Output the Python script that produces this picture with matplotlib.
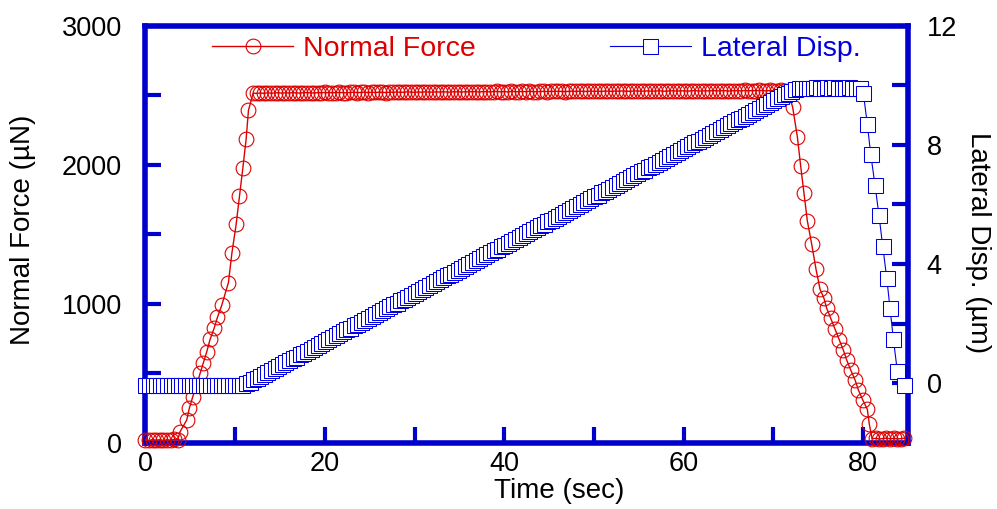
import numpy as np
import matplotlib.pyplot as plt

plt.rcParams['font.family'] = ['Liberation Sans', 'DejaVu Sans']

RED = '#dd0000'
BLUE = '#0000dd'
FRAME = '#0000cc'

# normal force (uN) against time (sec): preload, ramp up, hold, unload
t_force = [
    0.0, 0.4, 0.8, 1.2, 1.6, 2.0, 2.4, 2.8, 3.2, 3.6,
    3.86, 4.60, 4.89, 5.27, 5.71, 6.09, 6.46, 6.83, 7.20, 7.65,
    8.02, 8.51, 9.25, 9.63, 10.11, 10.48, 10.86, 11.22, 11.48,
    12.0, 12.4, 12.8, 13.2, 13.6, 14.0, 14.4, 14.8, 15.2, 15.6,
    16.0, 16.4, 16.8, 17.2, 17.6, 18.0, 18.4, 18.8, 19.2, 19.6,
    20.0, 20.4, 20.8, 21.2, 21.6, 22.0, 22.4, 22.8, 23.2, 23.6,
    24.0, 24.4, 24.8, 25.2, 25.6, 26.0, 26.4, 26.8, 27.2, 27.6,
    28.0, 28.4, 28.8, 29.2, 29.6, 30.0, 30.4, 30.8, 31.2, 31.6,
    32.0, 32.4, 32.8, 33.2, 33.6, 34.0, 34.4, 34.8, 35.2, 35.6,
    36.0, 36.4, 36.8, 37.2, 37.6, 38.0, 38.4, 38.8, 39.2, 39.6,
    40.0, 40.4, 40.8, 41.2, 41.6, 42.0, 42.4, 42.8, 43.2, 43.6,
    44.0, 44.4, 44.8, 45.2, 45.6, 46.0, 46.4, 46.8, 47.2, 47.6,
    48.0, 48.4, 48.8, 49.2, 49.6, 50.0, 50.4, 50.8, 51.2, 51.6,
    52.0, 52.4, 52.8, 53.2, 53.6, 54.0, 54.4, 54.8, 55.2, 55.6,
    56.0, 56.4, 56.8, 57.2, 57.6, 58.0, 58.4, 58.8, 59.2, 59.6,
    60.0, 60.4, 60.8, 61.2, 61.6, 62.0, 62.4, 62.8, 63.2, 63.6,
    64.0, 64.4, 64.8, 65.2, 65.6, 66.0, 66.4, 66.8, 67.2, 67.6,
    68.0, 68.4, 68.8, 69.2, 69.6, 70.0, 70.4, 70.8, 71.2, 71.6,
    72.15, 72.67, 73.04, 73.41, 73.78, 74.27, 74.75, 75.20, 75.64, 75.94,
    76.39, 76.87, 77.35, 77.79, 78.17, 78.62, 79.10, 79.47, 79.96, 80.47, 80.69,
    81.0, 81.4, 81.8, 82.2, 82.6, 83.0, 83.4, 83.8, 84.2, 84.6,
]
force = [
    22, 18, 25, 20, 24, 19, 23, 21, 26, 24,
    81, 165, 249, 332, 416, 500, 577, 655, 744, 823,
    902, 991, 1153, 1362, 1572, 1773, 1979, 2182, 2390,
    2514, 2512, 2515, 2513, 2516, 2514, 2515, 2517, 2514, 2516,
    2515, 2517, 2516, 2514, 2517, 2518, 2516, 2515, 2518, 2517,
    2519, 2516, 2518, 2517, 2519, 2518, 2516, 2519, 2520, 2518,
    2519, 2521, 2518, 2520, 2519, 2521, 2520, 2518, 2521, 2520,
    2522, 2520, 2521, 2523, 2521, 2520, 2522, 2521, 2523, 2522,
    2521, 2523, 2522, 2524, 2522, 2521, 2524, 2523, 2522, 2524,
    2523, 2525, 2524, 2522, 2525, 2524, 2523, 2525, 2526, 2524,
    2525, 2523, 2526, 2525, 2524, 2526, 2525, 2527, 2525, 2524,
    2526, 2527, 2525, 2527, 2526, 2528, 2526, 2525, 2527, 2528,
    2526, 2528, 2527, 2526, 2529, 2527, 2528, 2526, 2529, 2528,
    2527, 2529, 2528, 2530, 2528, 2527, 2529, 2530, 2528, 2529,
    2530, 2528, 2529, 2531, 2529, 2528, 2530, 2531, 2529, 2530,
    2531, 2529, 2530, 2532, 2530, 2529, 2531, 2530, 2532, 2531,
    2530, 2532, 2531, 2529, 2532, 2531, 2530, 2533, 2531, 2532,
    2531, 2533, 2532, 2530, 2533, 2532, 2531, 2533, 2532, 2531,
    2412, 2200, 1990, 1794, 1597, 1428, 1248, 1104, 1039, 968,
    896, 817, 740, 668, 596, 524, 453, 381, 309, 242, 136,
    30, 34, 28, 32, 35, 30, 33, 29, 31, 34,
]

# lateral displacement (um) against time (sec): rest, sliding, hold, return
t_disp = [
    0.0, 0.4, 0.8, 1.2, 1.6, 2.0, 2.4, 2.8, 3.2, 3.6,
    4.0, 4.4, 4.8, 5.2, 5.6, 6.0, 6.4, 6.8, 7.2, 7.6,
    8.0, 8.4, 8.8, 9.2, 9.6, 10.0, 10.4, 10.8, 11.2, 11.6,
    12.0, 12.4, 12.8, 13.2, 13.6, 14.0, 14.4, 14.8, 15.2, 15.6,
    16.0, 16.4, 16.8, 17.2, 17.6, 18.0, 18.4, 18.8, 19.2, 19.6,
    20.0, 20.4, 20.8, 21.2, 21.6, 22.0, 22.4, 22.8, 23.2, 23.6,
    24.0, 24.4, 24.8, 25.2, 25.6, 26.0, 26.4, 26.8, 27.2, 27.6,
    28.0, 28.4, 28.8, 29.2, 29.6, 30.0, 30.4, 30.8, 31.2, 31.6,
    32.0, 32.4, 32.8, 33.2, 33.6, 34.0, 34.4, 34.8, 35.2, 35.6,
    36.0, 36.4, 36.8, 37.2, 37.6, 38.0, 38.4, 38.8, 39.2, 39.6,
    40.0, 40.4, 40.8, 41.2, 41.6, 42.0, 42.4, 42.8, 43.2, 43.6,
    44.0, 44.4, 44.8, 45.2, 45.6, 46.0, 46.4, 46.8, 47.2, 47.6,
    48.0, 48.4, 48.8, 49.2, 49.6, 50.0, 50.4, 50.8, 51.2, 51.6,
    52.0, 52.4, 52.8, 53.2, 53.6, 54.0, 54.4, 54.8, 55.2, 55.6,
    56.0, 56.4, 56.8, 57.2, 57.6, 58.0, 58.4, 58.8, 59.2, 59.6,
    60.0, 60.4, 60.8, 61.2, 61.6, 62.0, 62.4, 62.8, 63.2, 63.6,
    64.0, 64.4, 64.8, 65.2, 65.6, 66.0, 66.4, 66.8, 67.2, 67.6,
    68.0, 68.4, 68.8, 69.2, 69.6, 70.0, 70.4, 70.8, 71.2, 71.6,
    72.0, 72.4, 72.8, 73.2, 73.6, 74.0, 74.4, 74.8, 75.2, 75.6,
    76.0, 76.4, 76.8, 77.2, 77.6, 78.0, 78.4, 78.8, 79.2, 79.6,
    80.02, 80.47, 80.85, 81.33, 81.77, 82.19, 82.63, 83.00, 83.37, 83.81, 84.56,
]
disp = [
    -0.05, -0.06, -0.05, -0.04, -0.05, -0.06, -0.05, -0.05, -0.04, -0.05,
    -0.05, -0.04, -0.05, -0.06, -0.05, -0.05, -0.04, -0.05, -0.05, -0.06,
    -0.05, -0.05, -0.04, -0.05, -0.06, -0.05, -0.05, -0.04, 0.00, 0.06,
    0.13, 0.19, 0.26, 0.32, 0.39, 0.45, 0.52, 0.58, 0.65, 0.71,
    0.78, 0.84, 0.90, 0.97, 1.03, 1.10, 1.16, 1.23, 1.29, 1.36,
    1.42, 1.49, 1.55, 1.62, 1.68, 1.74, 1.81, 1.87, 1.94, 2.00,
    2.07, 2.13, 2.20, 2.26, 2.33, 2.39, 2.45, 2.52, 2.58, 2.65,
    2.71, 2.78, 2.84, 2.91, 2.97, 3.04, 3.10, 3.17, 3.23, 3.29,
    3.36, 3.42, 3.49, 3.55, 3.62, 3.68, 3.75, 3.81, 3.88, 3.94,
    4.01, 4.07, 4.13, 4.20, 4.26, 4.33, 4.39, 4.46, 4.52, 4.59,
    4.65, 4.72, 4.78, 4.85, 4.91, 4.97, 5.04, 5.10, 5.17, 5.23,
    5.30, 5.36, 5.43, 5.49, 5.56, 5.62, 5.69, 5.75, 5.81, 5.88,
    5.94, 6.01, 6.07, 6.14, 6.20, 6.27, 6.33, 6.40, 6.46, 6.52,
    6.59, 6.65, 6.72, 6.78, 6.85, 6.91, 6.98, 7.04, 7.11, 7.17,
    7.24, 7.30, 7.36, 7.43, 7.49, 7.56, 7.62, 7.69, 7.75, 7.82,
    7.88, 7.95, 8.01, 8.08, 8.14, 8.20, 8.27, 8.33, 8.40, 8.46,
    8.53, 8.59, 8.66, 8.72, 8.79, 8.85, 8.91, 8.98, 9.04, 9.11,
    9.17, 9.24, 9.30, 9.37, 9.43, 9.50, 9.56, 9.63, 9.69, 9.75,
    9.82, 9.88, 9.90, 9.91, 9.92, 9.91, 9.92, 9.93, 9.92, 9.91,
    9.93, 9.92, 9.93, 9.92, 9.91, 9.92, 9.93, 9.92, 9.91, 9.92,
    9.74, 8.69, 7.68, 6.64, 5.63, 4.59, 3.54, 2.53, 1.49, 0.42, -0.05,
]

fig = plt.figure(figsize=(9.97, 5.09), dpi=100)
ax = fig.add_axes([0.1459, 0.1297, 0.7648, 0.8202])
ax2 = ax.twinx()

# force: open circles, drawn above its own frame
h1, = ax.plot(t_force, force, color=RED, lw=1.0, marker='o', ms=10.6,
              mfc='none', mec=RED, mew=0.8, clip_on=False, zorder=3)
# displacement: white filled squares so later points cover earlier ones
h2, = ax2.plot(t_disp, disp, color=BLUE, lw=0.8, marker='s', ms=10.8,
               mfc='white', mec=BLUE, mew=0.75, clip_on=False, zorder=3)

ax.set_xlim(0, 85)
ax.set_ylim(0, 3000)
ax2.set_ylim(-2, 12)

ax.set_xticks([0, 20, 40, 60, 80])
ax.set_xticks([10, 30, 50, 70], minor=True)
ax.set_yticks([0, 1000, 2000, 3000])
ax.set_yticks([500, 1500, 2500], minor=True)
ax2.set_yticks([0, 4, 8, 12])
ax2.set_yticks([2, 6, 10], minor=True)

for s in ax.spines.values():
    s.set_color(FRAME)
    s.set_linewidth(4)
for s in ax2.spines.values():
    s.set_visible(False)

tick_style = dict(which='both', direction='in', length=11.5, width=3,
                  color=FRAME, labelsize=19.5, labelcolor='black')
ax.tick_params(**tick_style)
ax.tick_params(axis='both', which='both', top=False, right=False)
ax.tick_params(axis='x', which='both', pad=6)
ax.tick_params(axis='y', which='both', pad=17)
ax2.tick_params(**tick_style)
ax2.tick_params(axis='y', which='both', pad=13.5)

ax.set_xlabel('Time (sec)', fontsize=20)
ax.xaxis.set_label_coords(0.542, -0.085)
ax.set_ylabel('Normal Force (µN)', fontsize=20, va='center')
ax.yaxis.set_label_coords(-0.161, 0.51)
ax2.set_ylabel('Lateral Disp. (µm)', fontsize=20, rotation=270, va='center')
ax2.yaxis.set_label_coords(1.092, 0.481)

leg = ax2.legend([h1, h2], ['Normal Force', 'Lateral Disp.'], ncol=2,
                 loc='center left', bbox_to_anchor=(0.0872, 0.944),
                 frameon=False, fontsize=20.5, handlelength=2.85,
                 handletextpad=0.36, columnspacing=4.7, borderpad=0,
                 borderaxespad=0, numpoints=1)
for txt, c in zip(leg.get_texts(), [RED, BLUE]):
    txt.set_color(c)

fig.savefig('out.png', dpi=100)
